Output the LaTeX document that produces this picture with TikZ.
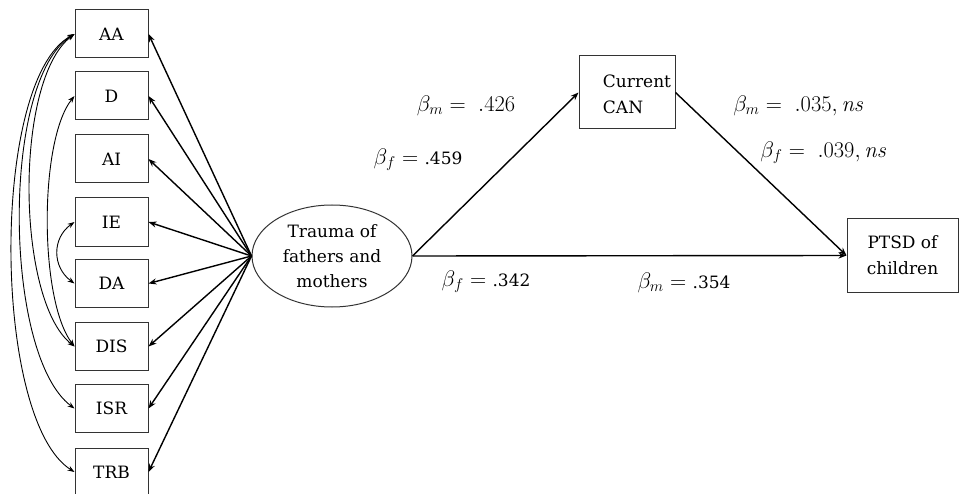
\documentclass[tikz,border=0pt]{standalone}
\usepackage[no-math]{fontspec}
\usepackage{graphicx}
\setmainfont{DejaVu Serif}
\usetikzlibrary{shapes.geometric,arrows.meta}
\newcommand{\coefmath}[1]{\scalebox{1.3}{$#1$}}
\begin{document}
\begin{tikzpicture}[x=1pt,y=1pt,
  box/.style={draw=black!80, line width=1pt, minimum width=73pt, minimum height=48pt, inner sep=0pt, font=\fontsize{17}{25}\selectfont},
  bigbox/.style={draw=black!80, line width=1pt, inner sep=0pt, align=center, font=\fontsize{17}{26}\selectfont},
  effect/.style={line width=1.4pt, -{Stealth[length=8pt,width=6pt]}},
  cov/.style={line width=0.9pt, {Stealth[length=7pt,width=5pt]}-{Stealth[length=7pt,width=5pt]}},
  lab/.style={font=\fontsize{17}{21}\selectfont, inner sep=0pt}]
\useasboundingbox (0,0) rectangle (960,-494);
% indicator boxes
\node[box] (AA)  at (111.5,-34)  {AA};
\node[box] (D)   at (111.5,-96)  {D};
\node[box] (AI)  at (111.5,-159) {AI};
\node[box] (IE)  at (111.5,-222) {IE};
\node[box] (DA)  at (111.5,-283.5) {DA};
\node[box] (DIS) at (111.5,-346.5) {DIS};
\node[box] (ISR) at (111.5,-408.5) {ISR};
\node[box] (TRB) at (111.5,-472) {TRB};
% latent
\node[ellipse, draw=black!80, line width=1pt, minimum width=160pt, minimum height=102pt, inner sep=0pt, align=center, font=\fontsize{17}{25}\selectfont] (trauma) at (332,-256) {Trauma of\\fathers and\\mothers};
% mediator and outcome
\node[bigbox, minimum width=96pt, minimum height=73pt] (can) at (627,-92.5) {};
\node[lab, align=left, font=\fontsize{17}{26}\selectfont] (cantext) at (637,-94) {Current\\CAN};
\node[bigbox, minimum width=111pt, minimum height=73pt] (ptsd) at (902.5,-255.5) {PTSD of\\children};
% loadings
\foreach \b in {AA,D,AI,IE,DA,DIS,ISR,TRB}
  \draw[effect] (trauma.west) -- (\b.east);
% covariances
\draw[cov] (AA.west) .. controls (-10,-80) and (-8,-420) .. (TRB.west);
\draw[cov] (AA.west) .. controls (1,-80) and (3,-355) .. (ISR.west);
\draw[cov] (AA.west) .. controls (14,-80) and (16,-300) .. (DIS.west);
\draw[cov] (D.west) .. controls (39,-140) and (39,-300) .. (DIS.west);
\draw[cov] (IE.west) .. controls (52,-238) and (52,-267) .. (DA.west);
% structural paths
\draw[effect] (trauma.east) -- (can.west);
\draw[effect] (can.east) -- (ptsd.west);
\draw[effect] (trauma.east) -- (ptsd.west);
% coefficients
\node[lab] (l1) at (466,-106) {\coefmath{\beta_m =\;.426}};
\node[lab] (l2) at (418,-160) {\coefmath{\beta_f =\;}.459};
\node[lab] (l3) at (486,-282) {\coefmath{\beta_f =\;}.342};
\node[lab] (l4) at (684,-283) {\coefmath{\beta_m =\;}.354};
\node[lab] (l5) at (799,-106) {\coefmath{\beta_m =\;.035, \mathit{ns}}};
\node[lab] (l6) at (824,-153) {\coefmath{\beta_f =\;.039, \mathit{ns}}};
\end{tikzpicture}
\end{document}
